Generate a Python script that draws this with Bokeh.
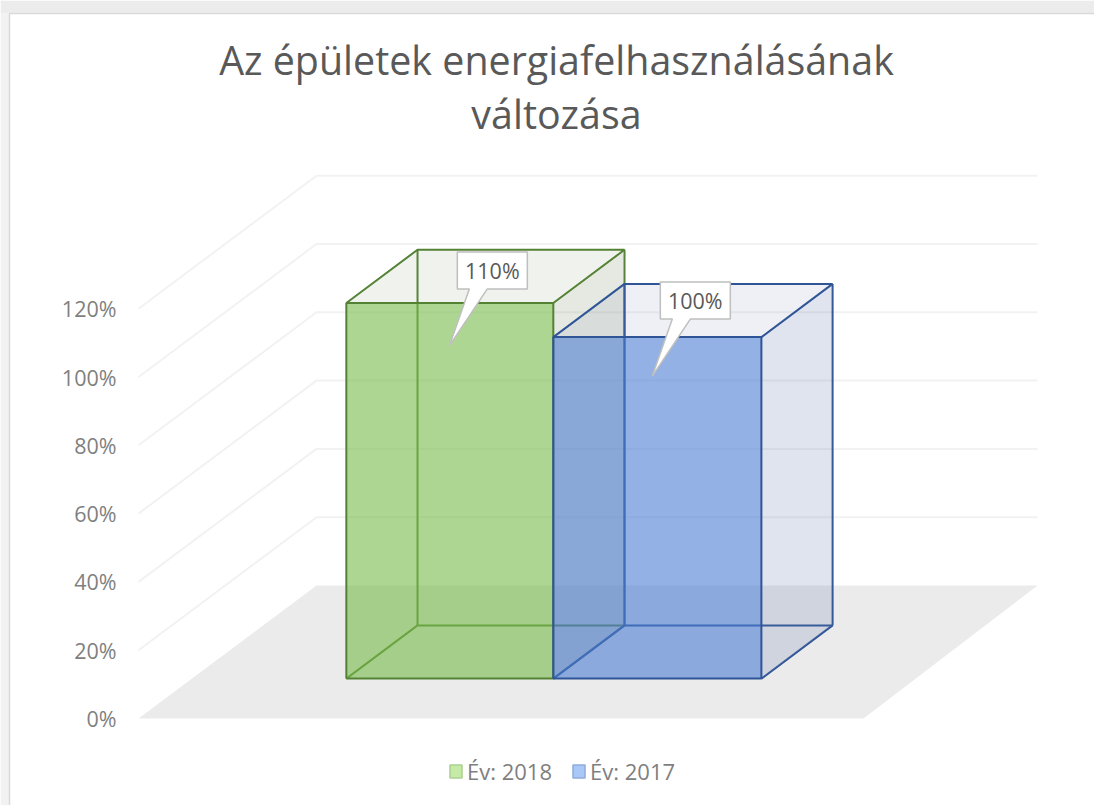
from bokeh.plotting import figure
from bokeh.embed import file_html
from bokeh.resources import INLINE
from bokeh.core.properties import value
from bokeh.models import Range1d, FixedTicker, PrintfTickFormatter, Legend, LegendItem

# ---- data ----
series_names = ["Év: 2018", "Év: 2017"]
series_values = [110, 100]
data_labels = ["110%", "100%"]
axis_ticks = [0, 20, 40, 60, 80, 100, 120]
title_lines = ["Az épületek energiafelhasználásának", "változása"]

front_fill = ["#78bb4b", "#4b7dd2"]
top_fill = ["#7a9369", "#7182ac"]
side_fill = ["#82916e", "#6478aa"]
edge_color = ["#548235", "#2f5597"]
swatch_fill = ["#c5eba6", "#a9c8f8"]
swatch_line = ["#a9d18e", "#8faadc"]

# ---- layout of the pseudo-3D scene (page pixels) ----
PW, PH = 1094, 805
X0, Y0 = 138.0, 718.0       # origin of the front plane on the page
SX, SY = 725.0, 3.415       # pixels per x unit / per percent
DX, DY = 178.0 / SX, 133.0 / SY   # full-depth shift in data units
CAT_EDGES = [0.213, 0.4985, 0.7855]
D0, D1 = 0.30, 0.70
X_MAX = 1.0 - 4.0 / SX

def ux(px):
    return (px - X0) / SX

def uy(py):
    return (Y0 - py) / SY

def proj(u, v, d):
    return u + DX * d, v + DY * d

p = figure(width=PW, height=PH, output_backend="svg", toolbar_location=None,
           x_range=Range1d(ux(0), ux(PW)), y_range=Range1d(uy(PH), uy(0)),
           min_border=0, min_border_left=0, min_border_right=0,
           min_border_top=0, min_border_bottom=0, x_axis_type=None)
p.grid.visible = False
p.outline_line_color = None
p.background_fill_color = "white"
p.border_fill_color = "white"

# y axis, drawn inside the full-page frame
ax = p.yaxis[0]
ax.fixed_location = ux(130)
ax.ticker = FixedTicker(ticks=axis_ticks)
ax.formatter = PrintfTickFormatter(format="%d%%")
ax.axis_line_color = None
ax.major_tick_line_color = None
ax.minor_tick_line_color = None
ax.major_label_standoff = 8
ax.major_label_text_color = "#7f7f7f"
ax.major_label_text_font = "Open Sans"
ax.major_label_text_font_size = "21.5px"

# area outside the chart and chart border
p.quad(left=[ux(0)], right=[ux(PW)], top=[uy(0)], bottom=[uy(13)], fill_color="#ececec", line_color=None)
p.quad(left=[ux(0)], right=[ux(9)], top=[uy(13)], bottom=[uy(PH)], fill_color="#f2f2f2", line_color=None)
p.line([ux(9), ux(9), ux(PW)], [uy(PH), uy(13), uy(13)], line_color="#d9d9d9", line_width=1.5)

# floor
corners = [proj(0, 0, 0), proj(0, 0, 1), proj(X_MAX, 0, 1), proj(1, 0, 0)]
p.patch([c[0] for c in corners], [c[1] for c in corners], fill_color="#ebebeb", line_color=None)

# wall gridlines
gx, gy = [], []
for t in axis_ticks[1:]:
    pts = [proj(0, t, 0), proj(0, t, 1), proj(X_MAX, t, 1)]
    gx.append([q[0] for q in pts])
    gy.append([q[1] for q in pts])
p.multi_line(gx, gy, line_color="#f2f2f2", line_width=2)

# boxes
for i, val in enumerate(series_values):
    u0, u1 = CAT_EDGES[i], CAT_EDGES[i + 1]
    fbl, fbr, ftl, ftr = proj(u0, 0, D0), proj(u1, 0, D0), proj(u0, val, D0), proj(u1, val, D0)
    bbl, bbr, btl, btr = proj(u0, 0, D1), proj(u1, 0, D1), proj(u0, val, D1), proj(u1, val, D1)

    # hidden edges first, seen through the faces
    hidden = [[fbl, bbl], [bbl, bbr], [bbr, fbr], [bbl, btl], [bbr, btr]]
    p.multi_line([[q[0] for q in s] for s in hidden], [[q[1] for q in s] for s in hidden],
                 line_color=edge_color[i], line_width=2)

    faces = [([ftl, btl, btr, ftr], top_fill[i], 0.12),
             ([ftr, btr, bbr, fbr], side_fill[i], 0.20),
             ([fbl, ftl, ftr, fbr], front_fill[i], 0.60)]
    for pts, col, alpha in faces:
        p.patch([q[0] for q in pts], [q[1] for q in pts], fill_color=col, fill_alpha=alpha, line_color=None)

    visible = [[fbl, ftl, ftr, fbr, fbl], [ftl, btl, btr, ftr]]
    p.multi_line([[q[0] for q in s] for s in visible], [[q[1] for q in s] for s in visible],
                 line_color=edge_color[i], line_width=2)

# callouts, placed relative to each box's front top-left corner
box_off = [(111, -51), (107, -55)]
BW, BH = 70, 37
for i, val in enumerate(series_values):
    cu, cv = proj(CAT_EDGES[i], val, D0)
    bx0, by0 = box_off[i]
    to_x = lambda dx: cu + dx / SX
    to_y = lambda dy: cv - dy / SY
    xs = [bx0, bx0 + BW, bx0 + BW, bx0 + 30, bx0 - 8, bx0 + 12, bx0]
    ys = [by0, by0, by0 + BH, by0 + BH, by0 + 94, by0 + BH, by0 + BH]
    p.patch([to_x(a) for a in xs], [to_y(b) for b in ys], fill_color="white",
            line_color="#bfbfbf", line_width=1.5)
    p.text([to_x(bx0 + BW / 2)], [to_y(by0 + BH / 2)], text=[data_labels[i]],
           text_font=value("Open Sans"), text_font_size="21.5px", text_color="#595959",
           text_align="center", text_baseline="middle")

# title
for line, py in zip(title_lines, [59, 113]):
    p.text([ux(556)], [uy(py)], text=[line], text_font=value("Open Sans"), text_font_size="39.4px",
           text_color="#595959", text_align="center", text_baseline="middle")

# legend: its keys come from zero-area quads on each box's front top-left corner
items = []
for i, name in enumerate(series_names):
    cu, cv = proj(CAT_EDGES[i], series_values[i], D0)
    r = p.quad(left=[cu], right=[cu], top=[cv], bottom=[cv], fill_color=swatch_fill[i], fill_alpha=1.0,
               line_color=swatch_line[i], line_width=1.5)
    items.append(LegendItem(label=value(name), renderers=[r]))
leg = Legend(items=items, orientation="horizontal", location=(448, 19),
             glyph_width=15, glyph_height=16, label_standoff=4, spacing=19,
             padding=0, margin=0, border_line_color=None, background_fill_alpha=0,
             label_text_font="Open Sans", label_text_font_size="22px", label_text_color="#7f7f7f")
p.add_layout(leg, "center")

open("out.html", "w").write(file_html(p, INLINE))
